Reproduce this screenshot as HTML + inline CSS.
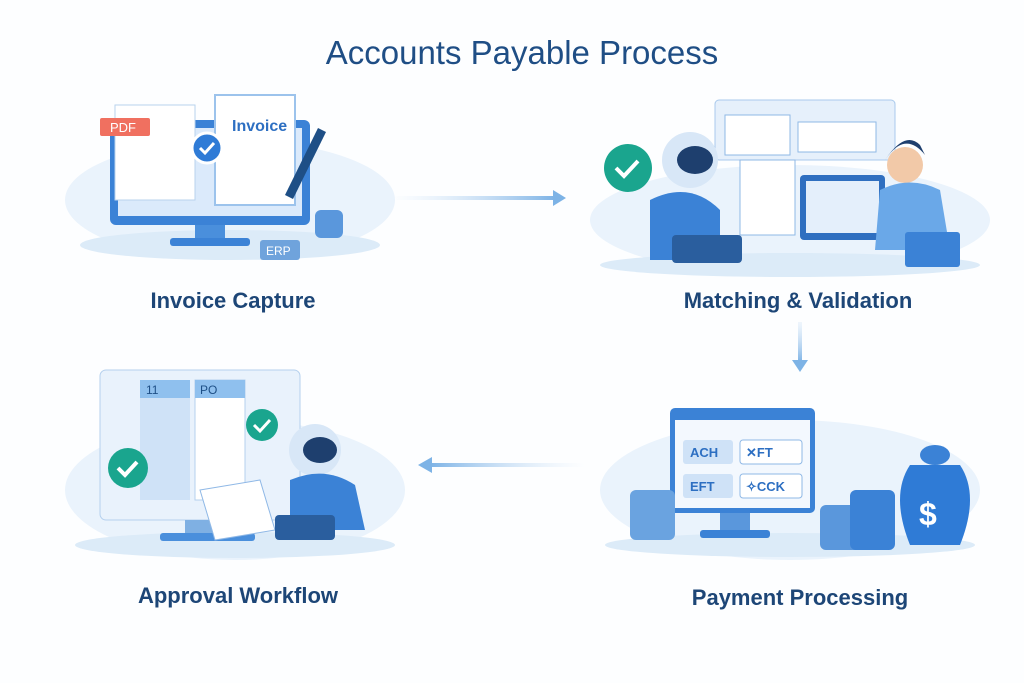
<!DOCTYPE html>
<html><head><meta charset="utf-8"><style>
body{margin:0;width:1024px;height:683px;background:#fdfeff;overflow:hidden;font-family:"Liberation Sans",sans-serif;position:relative}
.t{position:absolute;color:#1d4677;font-weight:bold;white-space:nowrap;transform:translateX(-50%)}
</style></head><body>
<div class="t" style="left:522px;top:34px;font-size:33px;font-weight:normal;color:#1f4e85">Accounts Payable Process</div>
<div class="t" style="left:233px;top:288px;font-size:22px">Invoice Capture</div>
<div class="t" style="left:798px;top:288px;font-size:22px">Matching &amp; Validation</div>
<div class="t" style="left:238px;top:583px;font-size:22px">Approval Workflow</div>
<div class="t" style="left:800px;top:585px;font-size:22px">Payment Processing</div>
<svg width="1024" height="683" style="position:absolute;left:0;top:0">
<defs>
<linearGradient id="ar" x1="0" x2="1"><stop offset="0" stop-color="#cfe3f7" stop-opacity="0"/><stop offset="1" stop-color="#7db3e6"/></linearGradient>
<linearGradient id="al" x1="1" x2="0"><stop offset="0" stop-color="#cfe3f7" stop-opacity="0"/><stop offset="1" stop-color="#7db3e6"/></linearGradient>
<linearGradient id="ad" x1="0" y1="0" x2="0" y2="1"><stop offset="0" stop-color="#cfe3f7" stop-opacity="0.3"/><stop offset="1" stop-color="#7db3e6"/></linearGradient>
</defs>
<!-- arrows -->
<rect x="390" y="196" width="165" height="4" fill="url(#ar)"/><path d="M553 190 L566 198 L553 206Z" fill="#7db3e6"/>
<rect x="798" y="322" width="4" height="40" fill="url(#ad)"/><path d="M792 360 L800 372 L808 360Z" fill="#7db3e6"/>
<rect x="430" y="463" width="155" height="4" fill="url(#al)"/><path d="M432 457 L418 465 L432 473Z" fill="#7db3e6"/>

<!-- panel 1 -->
<ellipse cx="230" cy="200" rx="165" ry="60" fill="#eaf3fc"/>
<ellipse cx="230" cy="245" rx="150" ry="15" fill="#dcebf8"/>
<rect x="110" y="120" width="200" height="105" rx="6" fill="#3b82d6"/>
<rect x="118" y="128" width="184" height="88" fill="#dbeafb"/>
<rect x="195" y="225" width="30" height="15" fill="#4a8fdc"/><rect x="170" y="238" width="80" height="8" rx="3" fill="#3b82d6"/>
<rect x="115" y="105" width="80" height="95" fill="#fff" stroke="#b8d3ee"/>
<rect x="100" y="118" width="50" height="18" rx="2" fill="#f07060"/><text x="110" y="132" font-size="13" fill="#fff">PDF</text>
<rect x="215" y="95" width="80" height="110" fill="#fff" stroke="#9cc3ec" stroke-width="2"/>
<text x="232" y="131" font-size="16" font-weight="bold" fill="#2d6fc2">Invoice</text>
<circle cx="207" cy="148" r="15" fill="#2f7bd6" stroke="#fff" stroke-width="3"/><path d="M200 148 l5 5 l9 -10" stroke="#fff" stroke-width="3" fill="none"/>
<path d="M285 195 L318 128 L326 132 L293 199Z" fill="#1e4f86"/>
<rect x="260" y="240" width="40" height="20" rx="3" fill="#6fa3dc"/><text x="266" y="255" font-size="12" fill="#fff">ERP</text>
<rect x="315" y="210" width="28" height="28" rx="6" fill="#5a97dc"/>
<!-- panel 2 -->
<ellipse cx="790" cy="220" rx="200" ry="55" fill="#eaf3fc"/>
<ellipse cx="790" cy="265" rx="190" ry="12" fill="#dcebf8"/>
<rect x="715" y="100" width="180" height="60" rx="4" fill="#e6f0fb" stroke="#a9c9ec"/>
<rect x="725" y="115" width="65" height="40" fill="#fff" stroke="#8fb8e6"/><rect x="798" y="122" width="78" height="30" fill="#fff" stroke="#8fb8e6"/>
<rect x="740" y="160" width="55" height="75" fill="#fff" stroke="#8fb8e6"/>
<rect x="800" y="175" width="85" height="65" rx="4" fill="#2f6fc0"/><rect x="806" y="181" width="73" height="52" fill="#e4effb"/>
<circle cx="628" cy="168" r="24" fill="#1aa58e"/><path d="M616 168 l8 8 l14 -15" stroke="#fff" stroke-width="4" fill="none"/>
<circle cx="690" cy="160" r="28" fill="#d8e7f7"/><ellipse cx="695" cy="160" rx="18" ry="14" fill="#1e3f6e"/>
<path d="M650 200 q40 -20 70 10 l0 50 l-70 0Z" fill="#3b82d6"/>
<rect x="672" y="235" width="70" height="28" rx="4" fill="#2a5e9e"/>
<circle cx="905" cy="165" r="18" fill="#f2c9a8"/><path d="M885 160 q20 -30 40 -5 l-5 -10 q-15 -15 -35 15Z" fill="#1e3f6e"/>
<path d="M880 190 q30 -15 60 0 l10 60 l-75 0Z" fill="#6aa8e8"/>
<rect x="905" y="232" width="55" height="35" rx="3" fill="#3b82d6"/>
<!-- panel 3 -->
<ellipse cx="235" cy="490" rx="170" ry="70" fill="#eaf3fc"/>
<ellipse cx="235" cy="545" rx="160" ry="13" fill="#dcebf8"/>
<rect x="100" y="370" width="200" height="150" rx="6" fill="#e9f2fc" stroke="#b5d0ee"/>
<rect x="140" y="380" width="50" height="120" fill="#cfe2f7"/><rect x="140" y="380" width="50" height="18" fill="#8fc0ee"/><text x="146" y="394" font-size="12" fill="#1e4f86">11</text>
<rect x="195" y="380" width="50" height="120" fill="#fff" stroke="#b5d0ee"/><rect x="195" y="380" width="50" height="18" fill="#8fc0ee"/><text x="200" y="394" font-size="12" fill="#1e4f86">PO</text>
<rect x="185" y="520" width="40" height="15" fill="#7fb0e3"/><rect x="160" y="533" width="95" height="8" rx="3" fill="#4a8fdc"/>
<circle cx="128" cy="468" r="20" fill="#1aa58e"/><path d="M118 468 l7 7 l12 -13" stroke="#fff" stroke-width="4" fill="none"/>
<circle cx="262" cy="425" r="16" fill="#1aa58e"/><path d="M254 425 l6 6 l10 -11" stroke="#fff" stroke-width="3" fill="none"/>
<path d="M200 490 l60 -10 l15 50 l-60 10Z" fill="#fff" stroke="#8fb8e6"/>
<circle cx="315" cy="450" r="26" fill="#d8e7f7"/><ellipse cx="320" cy="450" rx="17" ry="13" fill="#1e3f6e"/>
<path d="M290 480 q35 -15 65 5 l10 45 l-75 0Z" fill="#3b82d6"/>
<rect x="275" y="515" width="60" height="25" rx="4" fill="#2a5e9e"/>
<!-- panel 4 -->
<ellipse cx="790" cy="490" rx="190" ry="70" fill="#eaf3fc"/>
<ellipse cx="790" cy="545" rx="185" ry="12" fill="#dcebf8"/>
<rect x="670" y="408" width="145" height="105" rx="5" fill="#3b82d6"/><rect x="675" y="420" width="135" height="88" fill="#f3f8fe"/>
<rect x="720" y="513" width="30" height="20" fill="#5a97dc"/><rect x="700" y="530" width="70" height="8" rx="3" fill="#3b82d6"/>
<rect x="683" y="440" width="50" height="24" rx="3" fill="#cfe2f7"/><text x="690" y="457" font-size="13" font-weight="bold" fill="#2d6fc2">ACH</text>
<rect x="740" y="440" width="62" height="24" rx="3" fill="#fff" stroke="#8fb8e6"/><text x="746" y="457" font-size="13" font-weight="bold" fill="#2d6fc2">✕FT</text>
<rect x="683" y="474" width="50" height="24" rx="3" fill="#cfe2f7"/><text x="690" y="491" font-size="13" font-weight="bold" fill="#2d6fc2">EFT</text>
<rect x="740" y="474" width="62" height="24" rx="3" fill="#fff" stroke="#8fb8e6"/><text x="746" y="491" font-size="13" font-weight="bold" fill="#2d6fc2">✧CCK</text>
<rect x="630" y="490" width="45" height="50" rx="6" fill="#6aa3e0"/>
<rect x="820" y="505" width="45" height="45" rx="6" fill="#5a97dc"/><rect x="850" y="490" width="45" height="60" rx="6" fill="#3b82d6"/>
<path d="M910 465 q-20 30 0 80 l50 0 q20 -50 0 -80Z" fill="#2f7bd6"/><ellipse cx="935" cy="455" rx="15" ry="10" fill="#3b82d6"/>
<text x="919" y="525" font-size="32" font-weight="bold" fill="#fff">$</text>
</svg>
</body></html>
